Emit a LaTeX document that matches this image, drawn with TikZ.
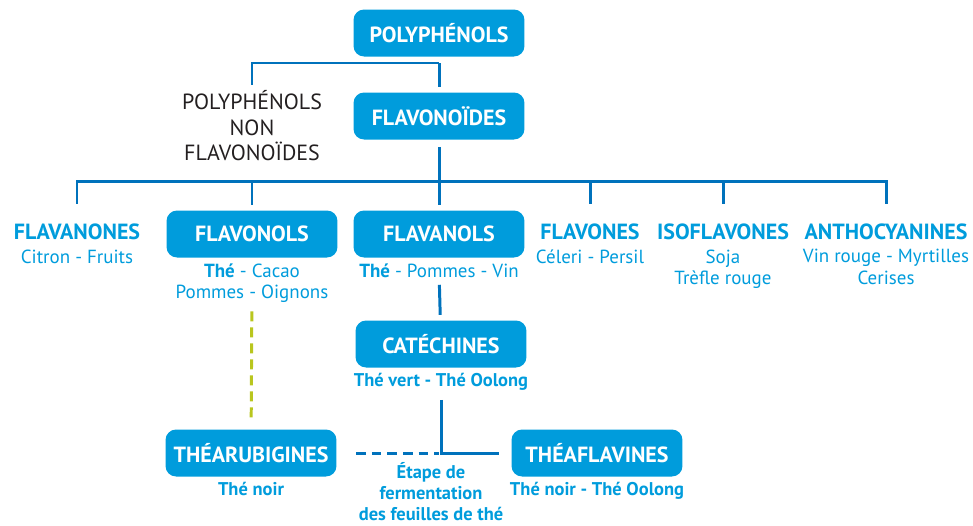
\documentclass[tikz,border=0pt]{standalone}
\usepackage{fontspec}
\setmainfont{PT Sans}
\usetikzlibrary{positioning}
\definecolor{teablue}{RGB}{0,156,220}
\definecolor{teadark}{RGB}{0,114,188}
\definecolor{teagreen}{RGB}{185,198,30}
\definecolor{teagray}{RGB}{35,31,32}

\begin{document}
\begin{tikzpicture}[
  x=0.02cm, y=-0.02cm,
  box/.style={rectangle, rounded corners=6pt, fill=teablue, text=white,
              minimum height=0.94cm, minimum width=3.42cm, align=center,
              font=\fontsize{12.5}{14}\selectfont\bfseries},
  family/.style={text=teablue, inner sep=1pt, font=\fontsize{12.5}{14}\selectfont\bfseries},
  food/.style={text=teablue, inner sep=1pt, align=center, font=\fontsize{10.8}{12}\selectfont},
  tea/.style={food, font=\fontsize{10.5}{12}\selectfont\bfseries},
  trunk/.style={draw=teadark, line width=1.7pt},
  twig/.style={draw=teadark, line width=0.7pt},
  ferment/.style={trunk, dash pattern=on 5.5pt off 3.4pt},
  oxid/.style={draw=teagreen, line width=1.7pt, dash pattern=on 5.7pt off 3.4pt},
]
  \useasboundingbox (0,0) rectangle (973,525);

  \node[box] (poly) at (439,33) {POLYPHÉNOLS};
  \node[box] (flavo) at (439,116) {FLAVONOÏDES};
  \node[align=center, text=teagray, font=\fontsize{12.5}{14.5}\selectfont] (nonflavo) at (252,126) {POLYPHÉNOLS\\NON\\FLAVONOÏDES};
  \coordinate (split) at (439,63);
  \coordinate (hub) at (439,181);

  % familles
  \node[family] (flavanones) at (77,232) {FLAVANONES};
  \node[food, below=3pt of flavanones] (flavanones-src) {Citron - Fruits};
  \node[box] (flavonols) at (252,234) {FLAVONOLS};
  \node[food, below=2pt of flavonols] (flavonols-src) {\textbf{Thé} - Cacao\\Pommes - Oignons};
  \node[box] (flavanols) at (439,234) {FLAVANOLS};
  \node[food, below=2pt of flavanols] (flavanols-src) {\textbf{Thé} - Pommes - Vin};
  \node[family] (flavones) at (590,232) {FLAVONES};
  \node[food, below=3pt of flavones] (flavones-src) {Céleri - Persil};
  \node[family] (isoflavones) at (723,232) {ISOFLAVONES};
  \node[food, below=3pt of isoflavones] (isoflavones-src) {Soja\\Trèfle rouge};
  \node[family] (anthocyanines) at (886,232) {ANTHOCYANINES};
  \node[food, below=3pt of anthocyanines] (anthocyanines-src) {Vin rouge - Myrtilles\\Cerises};

  % thé
  \node[box] (catechines) at (441,344) {CATÉCHINES};
  \node[tea, below=2pt of catechines] (catechines-src) {Thé vert - Thé Oolong};
  \node[box] (thearub) at (251,453) {THÉARUBIGINES};
  \node[tea, below=2pt of thearub] (thearub-src) {Thé noir};
  \node[box] (theafla) at (597,453) {THÉAFLAVINES};
  \node[tea, below=2pt of theafla] (theafla-src) {Thé noir - Thé Oolong};
  \node[tea] (etape) at (431,492) {Étape de\\fermentation\\des feuilles de thé};
  \coordinate (ferm) at (439,453);

  \draw[trunk, shorten >=3pt] (split) -- (flavo);
  \draw[twig] (split) -| (nonflavo);
  \draw[trunk, shorten <=4pt] (flavo) -- (hub);
  \draw[trunk, shorten >=10pt] (hub) -| (flavanones);
  \draw[trunk, shorten >=3pt] (hub) -| (flavonols);
  \draw[trunk, shorten >=3pt] (hub) -- (flavanols);
  \draw[trunk, shorten >=10pt] (hub) -| (flavones);
  \draw[trunk, shorten >=10pt] (hub) -| (isoflavones);
  \draw[trunk, shorten >=10pt] (hub) -| (anthocyanines);
  \draw[trunk, shorten <=3pt, shorten >=3pt] (flavanols-src) -- (catechines);
  \draw[trunk, shorten <=4pt, shorten >=7pt] (catechines-src) |- (theafla);
  \draw[ferment, shorten <=11pt] (thearub) -- (ferm);
  \draw[oxid, shorten <=4pt, shorten >=5pt] (flavonols-src) -- (thearub);
\end{tikzpicture}
\end{document}
